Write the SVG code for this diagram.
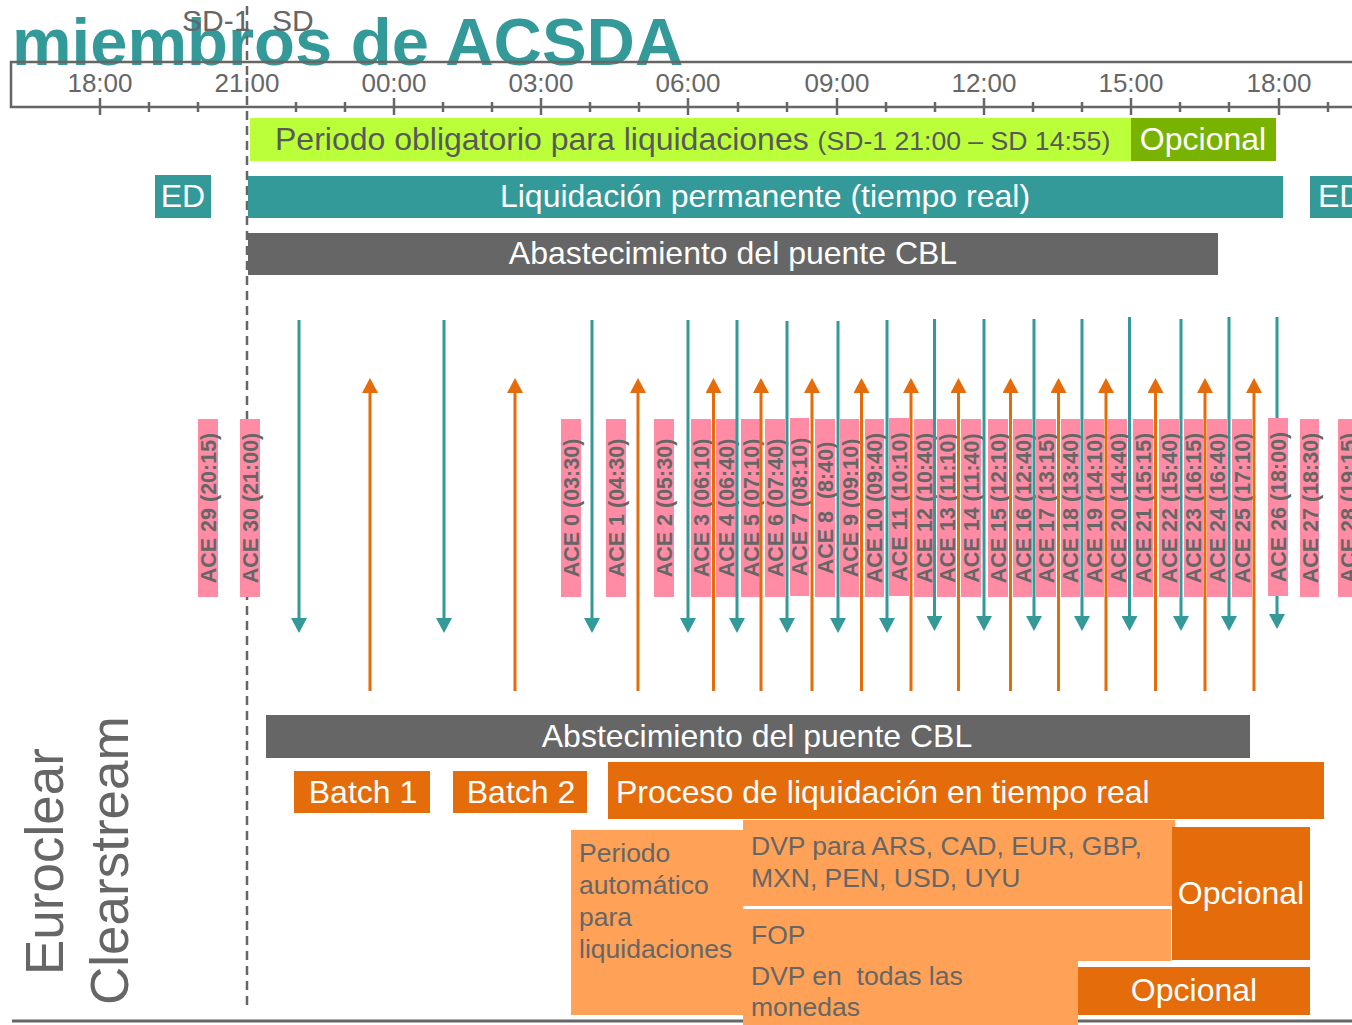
<svg xmlns="http://www.w3.org/2000/svg" width="1352" height="1025" viewBox="0 0 1352 1025">
<style>
text{font-family:"Liberation Sans",Arial,sans-serif}
.tick{font-size:26px;fill:#666;text-anchor:middle}
.ace{fill:#FF8BA5}
.acet{font-size:21.5px;font-weight:bold;fill:#666;text-anchor:middle}
.bt{font-size:32px;fill:#fff}
.mid{text-anchor:middle}
.gt{font-size:26.5px;fill:#666}
.tl{stroke:#339999;stroke-width:3;fill:none}
.ol{stroke:#E46C0A;stroke-width:3;fill:none}
.ax{stroke:#666;stroke-width:2.5;fill:none}
</style>
<defs>
<marker id="ah-teal" markerUnits="userSpaceOnUse" markerWidth="16" markerHeight="16" viewBox="0 0 16 16" refX="0" refY="8" orient="auto">
<path d="M0,0 L15,8 L0,16 Z" fill="#339999"/>
</marker>
<marker id="ah-orange" markerUnits="userSpaceOnUse" markerWidth="16" markerHeight="16" viewBox="0 0 16 16" refX="0" refY="8" orient="auto">
<path d="M0,0 L15,8 L0,16 Z" fill="#E46C0A"/>
</marker>
</defs>
<rect width="1352" height="1025" fill="#fff"/>

<g id="title">
<text x="12" y="65" font-size="67" font-weight="bold" fill="#339999">miembros de ACSDA</text>
</g>
<g id="sd-labels">
<text x="182" y="31" font-size="30" fill="#666">SD-1</text>
<text x="272" y="31" font-size="30" fill="#666">SD</text>
</g>

<g id="axis">
<path class="ax" d="M1352,62 H11 V107 H1352"/>
<g stroke="#666" stroke-width="2.5">
<line x1="100" y1="98" x2="100" y2="115"/><line x1="149" y1="102" x2="149" y2="112"/><line x1="198" y1="102" x2="198" y2="112"/>
<line x1="296" y1="102" x2="296" y2="112"/><line x1="345" y1="102" x2="345" y2="112"/>
<line x1="394" y1="98" x2="394" y2="115"/><line x1="443" y1="102" x2="443" y2="112"/><line x1="492" y1="102" x2="492" y2="112"/>
<line x1="541" y1="98" x2="541" y2="115"/><line x1="590" y1="102" x2="590" y2="112"/><line x1="639" y1="102" x2="639" y2="112"/>
<line x1="688" y1="98" x2="688" y2="115"/><line x1="738" y1="102" x2="738" y2="112"/><line x1="787" y1="102" x2="787" y2="112"/>
<line x1="837" y1="98" x2="837" y2="115"/><line x1="886" y1="102" x2="886" y2="112"/><line x1="935" y1="102" x2="935" y2="112"/>
<line x1="984" y1="98" x2="984" y2="115"/><line x1="1033" y1="102" x2="1033" y2="112"/><line x1="1082" y1="102" x2="1082" y2="112"/>
<line x1="1131" y1="98" x2="1131" y2="115"/><line x1="1180" y1="102" x2="1180" y2="112"/><line x1="1229" y1="102" x2="1229" y2="112"/>
<line x1="1279" y1="98" x2="1279" y2="115"/><line x1="1328" y1="102" x2="1328" y2="112"/>
</g>
<text class="tick" x="100" y="92">18:00</text>
<text class="tick" x="247" y="92">21:00</text>
<text class="tick" x="394" y="92">00:00</text>
<text class="tick" x="541" y="92">03:00</text>
<text class="tick" x="688" y="92">06:00</text>
<text class="tick" x="837" y="92">09:00</text>
<text class="tick" x="984" y="92">12:00</text>
<text class="tick" x="1131" y="92">15:00</text>
<text class="tick" x="1279" y="92">18:00</text>
</g>

<g id="day-divider">
<line x1="247" y1="6" x2="247" y2="1010" stroke="#666" stroke-width="2.5" stroke-dasharray="9,6"/>
</g>

<g id="periodo-obligatorio">
<rect x="250" y="118" width="881" height="43" fill="#BBFF3B"/>
<text x="275" y="150" font-size="32" fill="#595959">Periodo obligatorio para liquidaciones <tspan font-size="26.6">(SD-1 21:00 – SD 14:55)</tspan></text>
</g>
<g id="opcional-verde">
<rect x="1131" y="118" width="145" height="43" fill="#77B300"/>
<text class="bt mid" x="1203" y="150">Opcional</text>
</g>
<g id="ed-left">
<rect x="155" y="175" width="56" height="43" fill="#339999"/>
<text class="bt mid" x="183" y="207">ED</text>
</g>
<g id="liquidacion-permanente">
<rect x="248" y="176" width="1035" height="42" fill="#339999"/>
<text class="bt mid" x="765" y="207">Liquidación permanente (tiempo real)</text>
</g>
<g id="ed-right">
<rect x="1310" y="176" width="42" height="42" fill="#339999"/>
<text class="bt" x="1318" y="207">ED</text>
</g>
<g id="abastecimiento-top">
<rect x="248" y="233" width="970" height="42" fill="#666"/>
<text class="bt mid" x="733" y="264">Abastecimiento del puente CBL</text>
</g>

<g id="ace-windows">
<g id="ace29"><rect class="ace" x="198" y="419" width="20" height="178"/><text class="acet" transform="translate(208,508) rotate(-90)" y="7.5">ACE 29 (20:15)</text></g>
<g id="ace30"><rect class="ace" x="240" y="419" width="20" height="178"/><text class="acet" transform="translate(250,508) rotate(-90)" y="7.5">ACE 30 (21:00)</text></g>
<g id="ace0"><rect class="ace" x="561" y="419" width="20" height="178"/><text class="acet" transform="translate(571,508) rotate(-90)" y="7.5">ACE 0 (03:30)</text></g>
<g id="ace1"><rect class="ace" x="606" y="419" width="20" height="178"/><text class="acet" transform="translate(616,508) rotate(-90)" y="7.5">ACE 1 (04:30)</text></g>
<g id="ace2"><rect class="ace" x="654" y="419" width="20" height="178"/><text class="acet" transform="translate(664,508) rotate(-90)" y="7.5">ACE 2 (05:30)</text></g>
<g id="ace3"><rect class="ace" x="691" y="419" width="20" height="178"/><text class="acet" transform="translate(701,508) rotate(-90)" y="7.5">ACE 3 (06:10)</text></g>
<g id="ace4"><rect class="ace" x="716" y="419" width="20" height="178"/><text class="acet" transform="translate(726,508) rotate(-90)" y="7.5">ACE 4 (06:40)</text></g>
<g id="ace5"><rect class="ace" x="741" y="419" width="20" height="178"/><text class="acet" transform="translate(751,508) rotate(-90)" y="7.5">ACE 5 (07:10)</text></g>
<g id="ace6"><rect class="ace" x="765" y="419" width="20" height="178"/><text class="acet" transform="translate(775,508) rotate(-90)" y="7.5">ACE 6 (07:40)</text></g>
<g id="ace7"><rect class="ace" x="790" y="418" width="19" height="178"/><text class="acet" transform="translate(799,507) rotate(-90)" y="7.5">ACE 7 (08:10)</text></g>
<g id="ace8"><rect class="ace" x="815" y="419" width="20" height="178"/><text class="acet" transform="translate(825,508) rotate(-90)" y="7.5" xml:space="preserve">ACE 8  (8:40)</text></g>
<g id="ace9"><rect class="ace" x="840" y="419" width="19" height="178"/><text class="acet" transform="translate(850,508) rotate(-90)" y="7.5">ACE 9 (09:10)</text></g>
<g id="ace10"><rect class="ace" x="865" y="419" width="19" height="178"/><text class="acet" transform="translate(874,508) rotate(-90)" y="7.5">ACE 10 (09:40)</text></g>
<g id="ace11"><rect class="ace" x="889" y="418" width="20" height="178"/><text class="acet" transform="translate(899,507) rotate(-90)" y="7.5">ACE 11 (10:10)</text></g>
<g id="ace12"><rect class="ace" x="914" y="419" width="19" height="178"/><text class="acet" transform="translate(924,508) rotate(-90)" y="7.5">ACE 12 (10:40)</text></g>
<g id="ace13"><rect class="ace" x="937" y="419" width="19" height="178"/><text class="acet" transform="translate(947,508) rotate(-90)" y="7.5">ACE 13 (11:10)</text></g>
<g id="ace14"><rect class="ace" x="961" y="419" width="20" height="178"/><text class="acet" transform="translate(971,508) rotate(-90)" y="7.5">ACE 14 (11:40)</text></g>
<g id="ace15"><rect class="ace" x="988" y="419" width="20" height="178"/><text class="acet" transform="translate(998,508) rotate(-90)" y="7.5">ACE 15 (12:10)</text></g>
<g id="ace16"><rect class="ace" x="1013" y="419" width="19" height="178"/><text class="acet" transform="translate(1023,508) rotate(-90)" y="7.5">ACE 16 (12:40)</text></g>
<g id="ace17"><rect class="ace" x="1036" y="419" width="20" height="178"/><text class="acet" transform="translate(1046,508) rotate(-90)" y="7.5">ACE 17 (13:15)</text></g>
<g id="ace18"><rect class="ace" x="1061" y="419" width="19" height="178"/><text class="acet" transform="translate(1070,508) rotate(-90)" y="7.5">ACE 18 (13:40)</text></g>
<g id="ace19"><rect class="ace" x="1084" y="419" width="20" height="178"/><text class="acet" transform="translate(1094,508) rotate(-90)" y="7.5">ACE 19 (14:10)</text></g>
<g id="ace20"><rect class="ace" x="1108" y="419" width="19" height="178"/><text class="acet" transform="translate(1118,508) rotate(-90)" y="7.5">ACE 20 (14:40)</text></g>
<g id="ace21"><rect class="ace" x="1133" y="419" width="20" height="178"/><text class="acet" transform="translate(1143,508) rotate(-90)" y="7.5">ACE 21 (15:15)</text></g>
<g id="ace22"><rect class="ace" x="1159" y="419" width="20" height="178"/><text class="acet" transform="translate(1169,508) rotate(-90)" y="7.5">ACE 22 (15:40)</text></g>
<g id="ace23"><rect class="ace" x="1184" y="419" width="19" height="178"/><text class="acet" transform="translate(1193,508) rotate(-90)" y="7.5">ACE 23 (16:15)</text></g>
<g id="ace24"><rect class="ace" x="1207" y="419" width="20" height="178"/><text class="acet" transform="translate(1217,508) rotate(-90)" y="7.5">ACE 24 (16:40)</text></g>
<g id="ace25"><rect class="ace" x="1232" y="419" width="20" height="178"/><text class="acet" transform="translate(1242,508) rotate(-90)" y="7.5">ACE 25 (17:10)</text></g>
<g id="ace27"><rect class="ace" x="1300" y="419" width="19" height="178"/><text class="acet" transform="translate(1310,508) rotate(-90)" y="7.5">ACE 27 (18:30)</text></g>
<g id="ace28"><rect class="ace" x="1338" y="419" width="20" height="178"/><text class="acet" transform="translate(1348,508) rotate(-90)" y="7.5">ACE 28 (19:15)</text></g>
</g>

<g id="connectors">
<g class="tl" marker-end="url(#ah-teal)">
<line x1="299" y1="320" x2="299" y2="618"/>
<line x1="444" y1="320" x2="444" y2="618"/>
<line x1="592" y1="320" x2="592" y2="618"/>
<line x1="688" y1="320" x2="688" y2="618"/>
<line x1="737" y1="320" x2="737" y2="618"/>
<line x1="787" y1="321" x2="787" y2="618"/>
<line x1="838" y1="321" x2="838" y2="618"/>
<line x1="887" y1="320" x2="887" y2="618"/>
<line x1="934.5" y1="319" x2="934.5" y2="616"/>
<line x1="984" y1="319" x2="984" y2="616"/>
<line x1="1034" y1="319" x2="1034" y2="616"/>
<line x1="1082" y1="319" x2="1082" y2="616"/>
<line x1="1129.5" y1="317" x2="1129.5" y2="616"/>
<line x1="1181" y1="319" x2="1181" y2="616"/>
<line x1="1229" y1="317" x2="1229" y2="616"/>
<line x1="1277" y1="317" x2="1277" y2="614"/>
</g>
<g class="ol" marker-end="url(#ah-orange)">
<line x1="370" y1="691" x2="370" y2="393"/>
<line x1="515" y1="691" x2="515" y2="393"/>
<line x1="638" y1="691" x2="638" y2="393"/>
<line x1="713.5" y1="691" x2="713.5" y2="393"/>
<line x1="761" y1="691" x2="761" y2="393"/>
<line x1="812" y1="691" x2="812" y2="393"/>
<line x1="861.5" y1="691" x2="861.5" y2="393"/>
<line x1="911" y1="691" x2="911" y2="393"/>
<line x1="958.5" y1="691" x2="958.5" y2="393"/>
<line x1="1010.5" y1="691" x2="1010.5" y2="393"/>
<line x1="1058.5" y1="691" x2="1058.5" y2="393"/>
<line x1="1106" y1="691" x2="1106" y2="393"/>
<line x1="1155.5" y1="691" x2="1155.5" y2="393"/>
<line x1="1205" y1="691" x2="1205" y2="393"/>
<line x1="1254" y1="691" x2="1254" y2="393"/>
</g>
</g>

<g id="ace26"><rect class="ace" x="1268" y="418" width="20" height="178"/><text class="acet" transform="translate(1278,507) rotate(-90)" y="7.5">ACE 26 (18:00)</text></g>

<g id="ec-cs-label">
<text transform="translate(63,975) rotate(-90)" font-size="53" fill="#666">Euroclear</text>
<text transform="translate(128,1005) rotate(-90)" font-size="53" fill="#666">Clearstream</text>
</g>

<g id="bottom-line">
<line x1="12" y1="1021" x2="1352" y2="1021" stroke="#666" stroke-width="3"/>
</g>

<g id="abastecimiento-bottom">
<rect x="266" y="715" width="984" height="43" fill="#666"/>
<text class="bt mid" x="757" y="747">Abstecimiento del puente CBL</text>
</g>
<g id="batch1">
<rect x="294" y="771" width="136" height="42" fill="#E46C0A"/>
<text class="bt mid" x="363" y="803">Batch 1</text>
</g>
<g id="batch2">
<rect x="453" y="771" width="134" height="42" fill="#E46C0A"/>
<text class="bt mid" x="521" y="803">Batch 2</text>
</g>
<g id="proceso-tiempo-real">
<rect x="608" y="762" width="716" height="57" fill="#E46C0A"/>
<text class="bt" x="616" y="803">Proceso de liquidación en tiempo real</text>
</g>
<g id="periodo-automatico">
<rect x="571" y="830" width="172" height="185" fill="#FFA257"/>
<text class="gt" x="579" y="862">Periodo</text>
<text class="gt" x="579" y="894">automático</text>
<text class="gt" x="579" y="926">para</text>
<text class="gt" x="579" y="958">liquidaciones</text>
</g>
<g id="dvp-monedas">
<rect x="743" y="820" width="432" height="86" fill="#FFA257"/>
<text class="gt" x="751" y="855">DVP para ARS, CAD, EUR, GBP,</text>
<text class="gt" x="751" y="887">MXN, PEN, USD, UYU</text>
</g>
<g id="fop-dvp">
<path d="M743,909 H1171 V961 H1078 V1025 H743 Z" fill="#FFA257"/>
<text class="gt" x="751" y="944">FOP</text>
<text class="gt" x="751" y="985" xml:space="preserve">DVP en  todas las</text>
<text class="gt" x="751" y="1016">monedas</text>
</g>
<g id="opcional-1">
<rect x="1172" y="827" width="138" height="133" fill="#E46C0A"/>
<text class="bt mid" x="1241" y="904">Opcional</text>
</g>
<g id="opcional-2">
<rect x="1078" y="967" width="232" height="48" fill="#E46C0A"/>
<text class="bt mid" x="1194" y="1001">Opcional</text>
</g>
</svg>
